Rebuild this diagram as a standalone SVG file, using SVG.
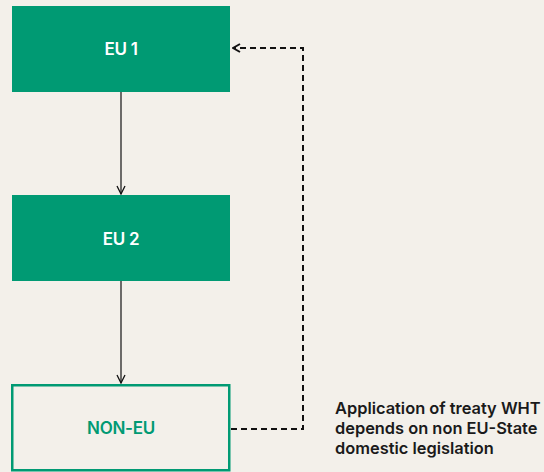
<svg xmlns="http://www.w3.org/2000/svg" width="544" height="472" viewBox="0 0 544 472">
  <style>
    .box { fill: #009a73; }
    .outline { fill: none; stroke: #009a73; stroke-width: 2.5; }
    .lbl { font-family: Inter, "Liberation Sans", sans-serif; font-weight: 600; font-size: 17px; text-anchor: middle; letter-spacing: -0.3px; }
    .white { fill: #ffffff; }
    .green { fill: #009a73; }
    .note { font-family: Inter, "Liberation Sans", sans-serif; font-weight: 600; font-size: 16.4px; fill: #1a1a1a; letter-spacing: 0; }
    .solid { fill: none; stroke: #111; stroke-width: 1.2; }
    .dash { fill: none; stroke: #111; stroke-width: 2; stroke-dasharray: 6 4; }
  </style>
  <defs>
    <marker id="open" viewBox="0 0 10 10" refX="9" refY="5" markerWidth="10" markerHeight="10" markerUnits="userSpaceOnUse" orient="auto">
      <path d="M1,1 L9,5 L1,9" fill="none" stroke="#111" stroke-width="1.3"/>
    </marker>
    <marker id="openDash" viewBox="0 0 10 10" refX="9" refY="5" markerWidth="10" markerHeight="10" markerUnits="userSpaceOnUse" orient="auto">
      <path d="M2,1 L9,5 L2,9" fill="none" stroke="#111" stroke-width="2"/>
    </marker>
  </defs>
  <rect width="544" height="472" fill="#f3f0ea"/>

  <g id="connectors">
    <line class="solid" x1="121" y1="92" x2="121" y2="194" marker-end="url(#open)"/>
    <line class="solid" x1="121" y1="281" x2="121" y2="383" marker-end="url(#open)"/>
    <path class="dash" d="M231,429 H303 V48 H233" marker-end="url(#openDash)"/>
  </g>

  <g id="eu1">
    <rect class="box" x="12" y="6" width="218" height="86"/>
    <text class="lbl white" x="121" y="55">EU 1</text>
  </g>
  <g id="eu2">
    <rect class="box" x="12" y="195" width="218" height="86"/>
    <text class="lbl white" x="121" y="245">EU 2</text>
  </g>
  <g id="noneu">
    <rect class="outline" x="12.25" y="385.25" width="217" height="85"/>
    <text class="lbl green" x="121" y="434">NON-EU</text>
  </g>

  <g id="note">
    <text class="note" x="335" y="414">Application of treaty WHT</text>
    <text class="note" x="335" y="434">depends on non EU-State</text>
    <text class="note" x="335" y="454">domestic legislation</text>
  </g>
</svg>
